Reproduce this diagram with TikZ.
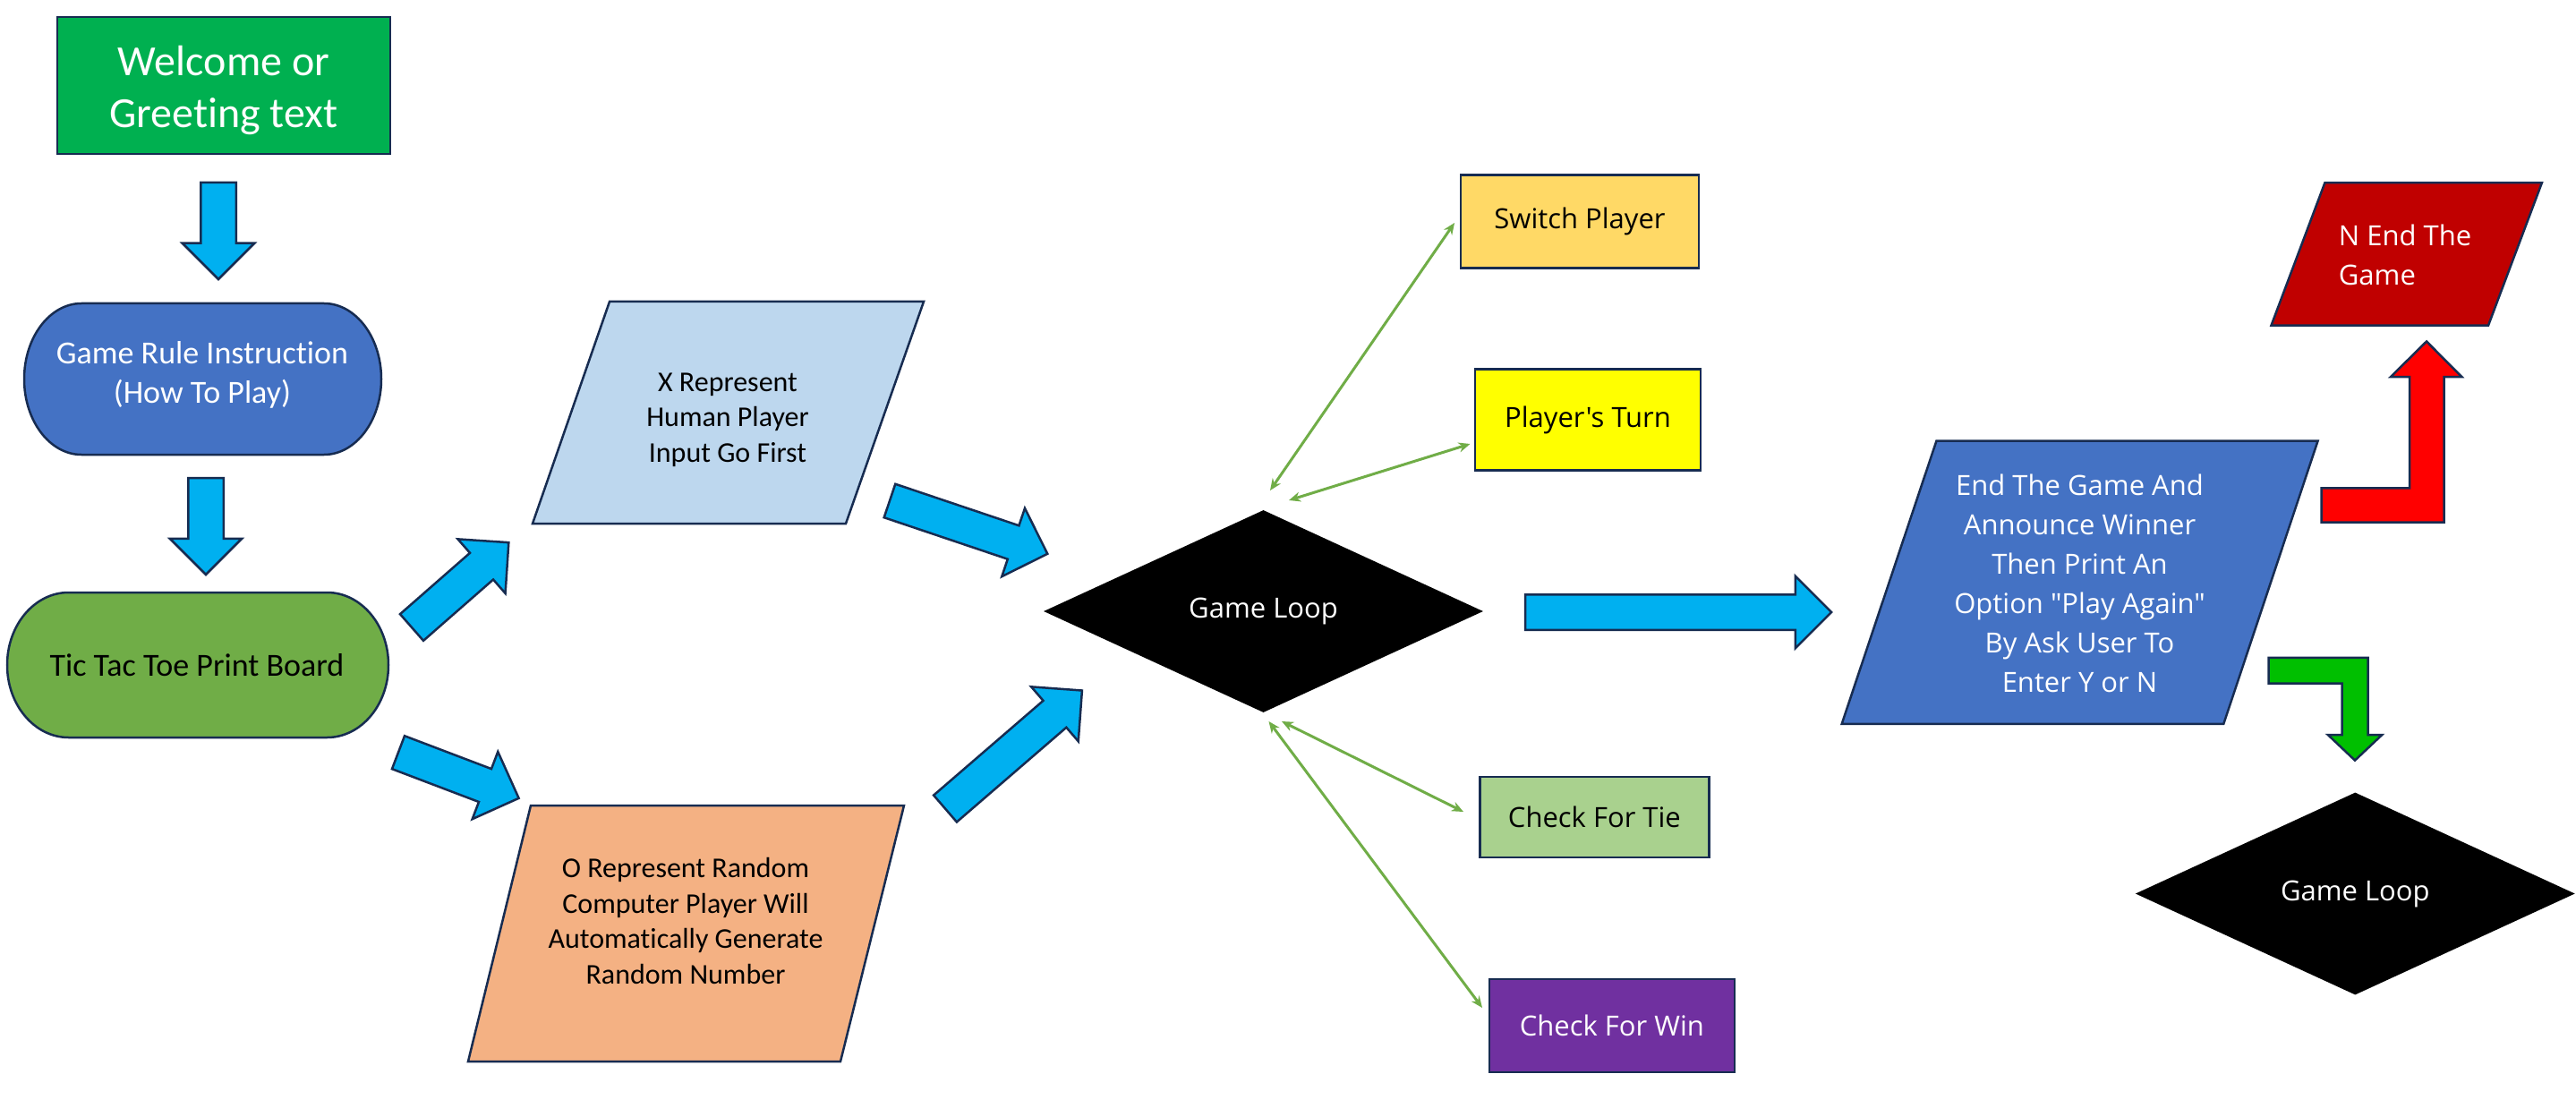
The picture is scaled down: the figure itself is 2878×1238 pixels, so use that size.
\documentclass[tikz,border=0pt]{standalone}
\usepackage{fontspec}
\setmainfont{Carlito}[Ligatures=NoCommon]
\newfontfamily\osans{Open Sans}
\usetikzlibrary{shapes.geometric,shapes.arrows,arrows.meta}
\definecolor{olc}{HTML}{172C51}
\definecolor{ablue}{HTML}{00B0F0}
\definecolor{wgreen}{HTML}{00B050}
\definecolor{acc1}{HTML}{4472C4}
\definecolor{tgreen}{HTML}{70AD47}
\definecolor{lblue}{HTML}{BDD7EE}
\definecolor{peach}{HTML}{F4B183}
\definecolor{gold}{HTML}{FFD966}
\definecolor{yel}{HTML}{FFFF00}
\definecolor{lgreen}{HTML}{A9D18E}
\definecolor{purp}{HTML}{7030A0}
\definecolor{dred}{HTML}{C00000}
\definecolor{bred}{HTML}{FF0000}
\definecolor{bgreen}{HTML}{00BF00}
\begin{document}
\begin{tikzpicture}[x=1pt,y=-1pt,
  ol/.style={draw=olc, line width=2.5pt},
  blk/.style={single arrow, ol, fill=ablue, minimum width=78pt, single arrow head extend=20.5pt,
    inner xsep=0pt, inner ysep=18.5pt, outer sep=0pt, anchor=tail},
  conn/.style={{Stealth[length=13pt,width=11pt]}-{Stealth[length=13pt,width=11pt]}, draw=tgreen, line width=3pt},
  lft/.style={font=\fontsize{32}{39.5}\selectfont, align=center},
  rgt/.style={font=\osans\fontsize{31}{44}\selectfont, align=center},
  box/.style={rectangle, ol, inner sep=0pt, rgt},
  dia/.style={diamond, fill=black, text=white, inner sep=0pt, aspect=2.17, minimum width=491pt, minimum height=226pt, rgt}
]
\useasboundingbox (0,0) rectangle (2878,1238);
\fill[white] (0,0) rectangle (2878,1238);

% Welcome
\path[ol, fill=wgreen] (64,19) rectangle (436,172);
\node[text=white, inner sep=0pt, font=\fontsize{48}{58}\selectfont, align=center] (wel) at (250,101) {Welcome or\\Greeting text};

% Game rule (terminator)
\path[ol, fill=acc1] (91,339) -- (362,339) .. controls (397.3,339) and (426,376.8) .. (426,423.5)
  .. controls (426,470.2) and (397.3,508) .. (362,508) -- (91,508)
  .. controls (55.7,508) and (27,470.2) .. (27,423.5) .. controls (27,376.8) and (55.7,339) .. (91,339) -- cycle;
\node[font=\fontsize{36}{43.5}\selectfont, align=center, text=white] (rule) at (226,419) {Game Rule Instruction\\(How To Play)};

% Tic Tac Toe
\path[ol, fill=tgreen] (76.6,662) -- (365.4,662) .. controls (403.3,662) and (434,698.3) .. (434,743)
  .. controls (434,787.7) and (403.3,824) .. (365.4,824) -- (76.6,824)
  .. controls (38.7,824) and (8,787.7) .. (8,743) .. controls (8,698.3) and (38.7,662) .. (76.6,662) -- cycle;
\node[font=\fontsize{36}{43.5}\selectfont] (ttt) at (220,743) {Tic Tac Toe Print Board};

% X represent
\path[ol, fill=lblue] (681,337) -- (1032,337) -- (945,585) -- (595,585) -- cycle;
\node[lft] (xrep) at (813,469) {X Represent\\Human Player\\Input Go First};

% O represent
\path[ol, fill=peach] (593,900) -- (1010,900) -- (939,1186) -- (523,1186) -- cycle;
\node[lft] (orep) at (766,1029) {O Represent Random\\Computer Player Will\\Automatically Generate\\Random Number};

% block arrows
\node[blk, minimum height=108pt, rotate=-90] (a1) at (244,204) {};
\node[blk, minimum height=108pt, rotate=-90] (a2) at (230,534) {};
\node[blk, minimum height=144pt, rotate=41.2] (a3) at (460,701) {};
\node[blk, minimum height=144pt, rotate=-20.8] (a4) at (445,840.7) {};
\node[blk, minimum height=186pt, rotate=-18.6] (a5) at (994,559.5) {};
\node[blk, minimum height=202pt, rotate=40.8] (a6) at (1056,903.5) {};
\node[blk, minimum height=342pt, rotate=0] (a7) at (1704,684) {};

% Game loop
\node[dia] (gl) at (1411.5,683) {Game Loop};

% right boxes
\node[box, fill=gold, minimum width=266pt, minimum height=104pt] (sw) at (1765,247.4) {Switch Player};
\node[box, fill=yel, minimum width=252pt, minimum height=113pt] (pt) at (1774,469) {Player's Turn};
\node[box, fill=lgreen, minimum width=256pt, minimum height=90pt] (tie) at (1781.4,912.8) {Check For Tie};
\node[box, fill=purp, text=white, minimum width=274pt, minimum height=104pt] (win) at (1800.9,1146) {Check For Win};

% connectors
\coordinate (c1a) at (1419,548); \coordinate (c1b) at (1625,249);
\coordinate (c2a) at (1440,559); \coordinate (c2b) at (1642.5,496);
\coordinate (c3a) at (1432,806); \coordinate (c3b) at (1635,907);
\coordinate (c4a) at (1417.5,806); \coordinate (c4b) at (1656,1126);
\draw[conn] (c1a) -- (c1b);
\draw[conn] (c2a) -- (c2b);
\draw[conn] (c3a) -- (c3b);
\draw[conn] (c4a) -- (c4b);

% End game parallelogram
\path[ol, fill=acc1] (2163.5,492.5) -- (2589.6,492.5) -- (2484.3,808.8) -- (2057.7,808.8) -- cycle;
\node[rgt, text=white] (endg) at (2323.5,652) {End The Game And\\Announce Winner\\Then Print An\\Option "Play Again"\\By Ask User To\\Enter Y or N};

% N end
\path[ol, fill=dred] (2597.4,204.2) -- (2839.9,204.2) -- (2780,363.6) -- (2537.5,363.6) -- cycle;
\node[rgt, text=white, align=left] (nend) at (2687,285) {N End The\\Game};

% red bent arrow
\path[ol, fill=bred] (2593.5,545.4) -- (2692,545.4) -- (2692,421) -- (2671,421) -- (2711,381.5) -- (2750.3,421)
  -- (2730.7,421) -- (2730.7,583.7) -- (2593.5,583.7) -- cycle;
% green bent arrow
\path[ol, fill=bgreen] (2534.7,734.8) -- (2645.6,734.8) -- (2645.6,821) -- (2661.3,821) -- (2631,849.6)
  -- (2600.8,821) -- (2616.5,821) -- (2616.5,763.5) -- (2534.7,763.5) -- cycle;

% second game loop
\node[dia] (gl2) at (2631.3,998.5) {Game Loop};
\end{tikzpicture}
\end{document}
